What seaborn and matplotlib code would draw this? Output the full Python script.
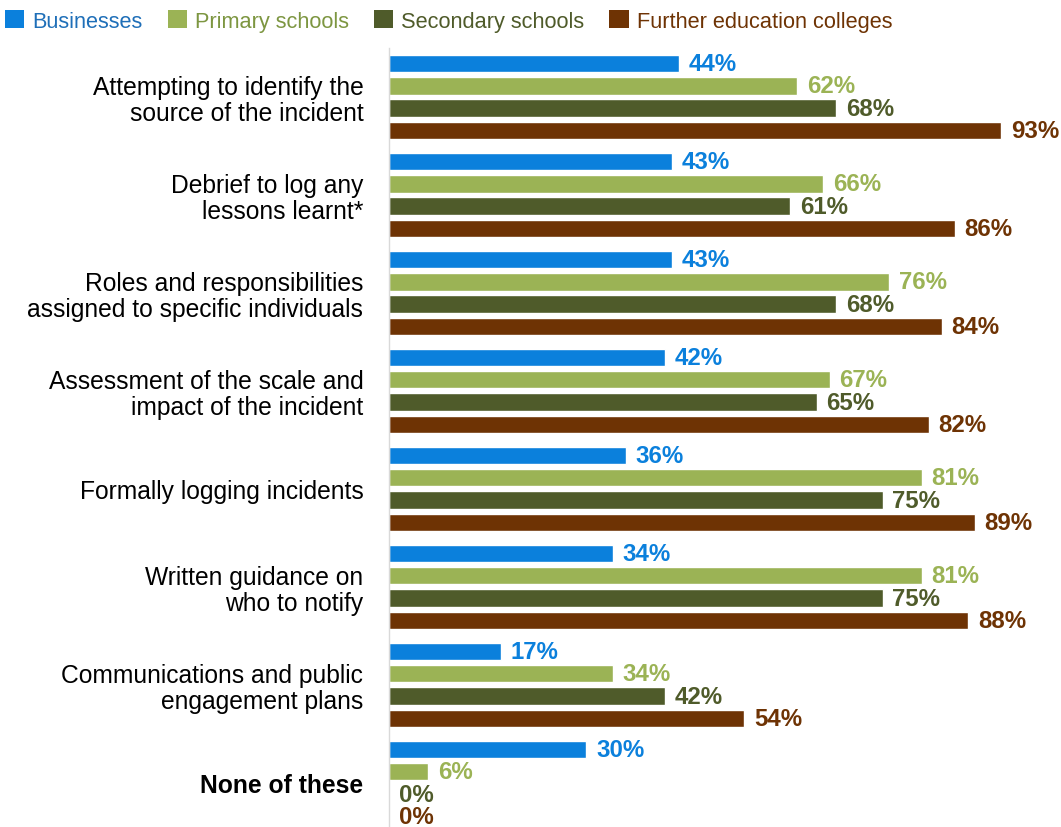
import matplotlib
matplotlib.use("Agg")
import matplotlib.pyplot as plt
from matplotlib.patches import Patch
import seaborn as sns
import pandas as pd

categories = [
    "Attempting to identify the\nsource of the incident",
    "Debrief to log any\nlessons learnt*",
    "Roles and responsibilities\nassigned to specific individuals",
    "Assessment of the scale and\nimpact of the incident",
    "Formally logging incidents",
    "Written guidance on\nwho to notify",
    "Communications and public\nengagement plans",
    "None of these",
]
series = ["Businesses", "Primary schools", "Secondary schools", "Further education colleges"]
businesses = [44, 43, 43, 42, 36, 34, 17, 30]
primary = [62, 66, 76, 67, 81, 81, 34, 6]
secondary = [68, 61, 68, 65, 75, 75, 42, 0]
further = [93, 86, 84, 82, 89, 88, 54, 0]

bar_colors = ["#0B80DC", "#9BB355", "#4F5B2A", "#6E3304"]
legend_text_colors = ["#1F6FB8", "#7D9641", "#4F5B2A", "#6E3304"]

values = [businesses, primary, secondary, further]
rows = []
for s, vals in zip(series, values):
    for c, v in zip(categories, vals):
        rows.append({"category": c, "series": s, "value": v})
df = pd.DataFrame(rows)

sns.set_theme(style="white")
plt.rcParams["font.family"] = ["Liberation Sans", "DejaVu Sans"]

fig = plt.figure(figsize=(10.61, 8.28), dpi=100)
ax = fig.add_axes([389 / 1061, 0, 1 - 389 / 1061, (828 - 49) / 828])

sns.barplot(data=df, y="category", x="value", hue="series", order=categories,
            hue_order=series, palette=bar_colors, orient="h", width=0.914,
            gap=0.22, ax=ax, legend=False, saturation=1, errorbar=None)

for cont, vals, col in zip(ax.containers, values, bar_colors):
    ax.bar_label(cont, labels=[f"{v}%" for v in vals], padding=7, color=col,
                 fontweight="bold", fontsize=17.3, clip_on=False)

ax.set_xlim(0, (1061 - 389) / 6.58)
ax.set_ylim(7.45, -0.5)
ax.set_xlabel("")
ax.set_ylabel("")
ax.set_xticks([])
for sp in ["top", "right", "bottom"]:
    ax.spines[sp].set_visible(False)
ax.spines["left"].set_color("#D9D9D9")
ax.spines["left"].set_linewidth(1)
ax.tick_params(axis="y", length=0, pad=18.5)
ax.set_yticks(range(len(categories)))
ax.set_yticklabels(categories, fontsize=17.7, color="#000000", linespacing=1.1,
                   ha="right")
ax.get_yticklabels()[-1].set_fontweight("bold")

handles = [Patch(facecolor=c, edgecolor="none") for c in bar_colors]
fig.legend(handles, series, loc="center left", bbox_to_anchor=(5 / 1061, 1 - 22 / 828),
           ncol=4, frameon=False, fontsize=15.7, handlelength=0.88, handleheight=0.88,
           handletextpad=0.37, columnspacing=1.15, borderpad=0, borderaxespad=0,
           labelcolor=legend_text_colors)

fig.savefig("out.png", dpi=100)
